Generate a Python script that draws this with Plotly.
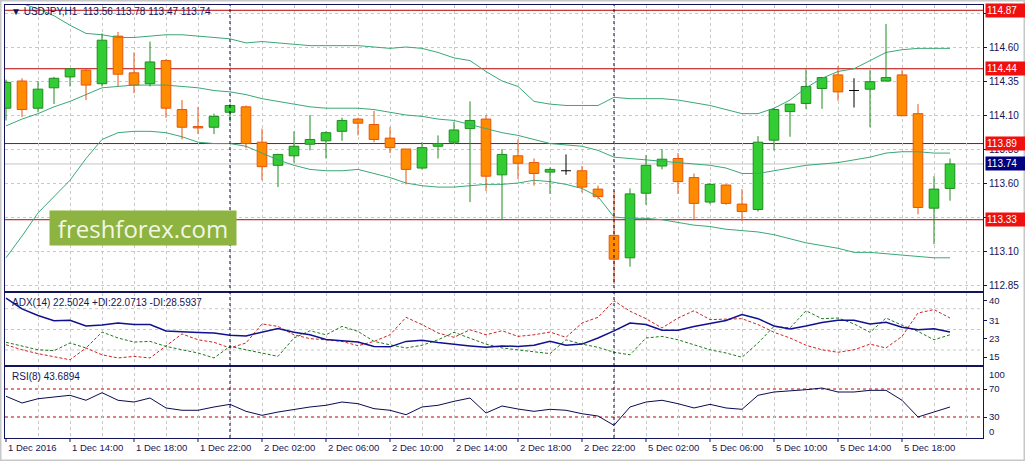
import plotly.graph_objects as go

# ---------------- data ----------------
opens = [114.15, 114.35, 114.15, 114.30, 114.38, 114.43, 114.33, 114.68, 114.41, 114.33,
         114.50, 114.14, 114.015, 114.01, 114.12, 114.16, 113.90, 113.73, 113.80, 113.885,
         113.91, 113.98, 114.07, 114.03, 113.93, 113.85, 113.71, 113.87, 113.90, 114.00,
         114.07, 113.66, 113.80, 113.75, 113.68, 113.69, 113.69, 113.555, 113.215, 113.05,
         113.525, 113.725, 113.78, 113.64, 113.46, 113.585, 113.445, 113.405, 113.915, 114.125,
         114.185, 114.295, 114.395, 114.28, 114.29, 114.35, 114.395, 114.11, 113.415, 113.56]
highs = [114.36, 114.37, 114.35, 114.38, 114.44, 114.44, 114.70, 114.71, 114.56, 114.64,
         114.51, 114.21, 114.16, 114.11, 114.18, 114.17, 114.00, 113.815, 113.98, 114.10,
         113.98, 114.08, 114.08, 114.13, 114.01, 113.85, 113.90, 113.95, 114.05, 114.20,
         114.10, 113.85, 113.92, 113.78, 113.715, 113.81, 113.725, 113.58, 113.54, 113.56,
         113.805, 113.85, 113.82, 113.67, 113.60, 113.59, 113.555, 113.945, 114.15, 114.18,
         114.435, 114.38, 114.46, 114.37, 114.43, 114.77, 114.43, 114.18, 113.65, 113.78]
lows = [114.06, 114.085, 114.12, 114.18, 114.31, 114.21, 114.31, 114.31, 114.26, 114.31,
        114.08, 113.92, 113.96, 113.96, 114.05, 113.855, 113.62, 113.57, 113.75, 113.84,
        113.78, 113.91, 113.95, 113.90, 113.82, 113.59, 113.70, 113.78, 113.89, 113.46,
        113.54, 113.33, 113.63, 113.58, 113.52, 113.66, 113.53, 113.48, 112.86, 112.985,
        113.44, 113.70, 113.52, 113.33, 113.445, 113.44, 113.32, 113.39, 113.84, 113.94,
        114.145, 114.145, 114.205, 114.155, 114.01, 114.345, 114.09, 113.37, 113.15, 113.47]
closes = [114.34, 114.14, 114.29, 114.37, 114.44, 114.32, 114.65, 114.40, 114.32, 114.49,
          114.15, 114.01, 114.005, 114.09, 114.17, 113.89, 113.72, 113.81, 113.87, 113.92,
          113.97, 114.06, 114.04, 113.92, 113.86, 113.70, 113.86, 113.89, 113.99, 114.06,
          113.65, 113.81, 113.745, 113.67, 113.70, 113.69, 113.57, 113.50, 113.04, 113.52,
          113.73, 113.775, 113.61, 113.45, 113.59, 113.45, 113.39, 113.90, 114.14, 114.18,
          114.31, 114.375, 114.27, 114.28, 114.345, 114.375, 114.095, 113.42, 113.555, 113.74]

bb_upper = [114.96, 114.92, 114.88, 114.83, 114.76, 114.70, 114.69, 114.67, 114.67, 114.68,
            114.69, 114.69, 114.68, 114.67, 114.66, 114.63, 114.64, 114.63, 114.62, 114.61,
            114.61, 114.61, 114.61, 114.60, 114.59, 114.60, 114.59, 114.56, 114.52, 114.50,
            114.42, 114.35, 114.31, 114.20, 114.18, 114.17, 114.17, 114.17, 114.23, 114.22,
            114.22, 114.22, 114.21, 114.19, 114.17, 114.14, 114.11, 114.11, 114.15, 114.21,
            114.30, 114.37, 114.42, 114.44, 114.50, 114.56, 114.58, 114.59, 114.59, 114.59]
bb_middle = [114.02, 114.07, 114.11, 114.16, 114.20, 114.25, 114.30, 114.31, 114.32, 114.32,
             114.32, 114.31, 114.30, 114.28, 114.27, 114.25, 114.22, 114.20, 114.18, 114.16,
             114.15, 114.15, 114.15, 114.14, 114.12, 114.10, 114.09, 114.07, 114.06, 114.03,
             114.00, 113.97, 113.95, 113.92, 113.89, 113.88, 113.87, 113.84, 113.79, 113.78,
             113.77, 113.76, 113.75, 113.74, 113.73, 113.71, 113.67, 113.67, 113.69, 113.71,
             113.73, 113.74, 113.75, 113.77, 113.79, 113.82, 113.83, 113.83, 113.82, 113.82]
bb_lower = [113.05, 113.21, 113.38, 113.50, 113.62, 113.78, 113.92, 113.97, 113.98, 113.98,
            113.97, 113.94, 113.90, 113.89, 113.89, 113.87, 113.82, 113.77, 113.73, 113.70,
            113.69, 113.69, 113.70, 113.67, 113.64, 113.60, 113.58, 113.57, 113.57, 113.58,
            113.59, 113.59, 113.60, 113.62, 113.61, 113.59, 113.56, 113.50, 113.35, 113.34,
            113.34, 113.33, 113.31, 113.29, 113.28, 113.26, 113.25, 113.24, 113.22, 113.19,
            113.16, 113.14, 113.12, 113.09, 113.09, 113.08, 113.07, 113.06, 113.05, 113.05]

adx = [41.0, 36.2, 33.3, 31.0, 31.2, 28.7, 29.1, 30.0, 29.3, 29.3,
       26.5, 26.0, 25.8, 25.6, 24.6, 24.3, 25.8, 27.6, 25.9, 24.8,
       22.7, 22.2, 21.6, 19.7, 19.5, 21.9, 22.4, 21.4, 20.5, 19.9,
       19.3, 19.9, 19.7, 20.2, 21.9, 20.2, 20.7, 23.4, 26.5, 30.0,
       29.3, 26.8, 26.8, 28.5, 29.8, 31.1, 33.7, 31.9, 28.7, 27.4,
       28.7, 30.2, 31.2, 31.2, 29.6, 30.3, 28.1, 27.0, 27.5, 26.0]
plus_di = [21.5, 19.7, 18.2, 17.8, 21.2, 19.0, 26.0, 23.4, 21.6, 21.9,
           19.7, 18.2, 16.8, 14.6, 19.7, 18.2, 16.8, 15.3, 23.4, 26.6,
           24.8, 28.5, 26.3, 21.9, 20.4, 19.0, 20.2, 22.6, 25.9, 23.4,
           20.7, 19.0, 18.2, 17.5, 16.5, 22.6, 20.7, 19.3, 17.1, 16.0,
           23.4, 24.1, 22.6, 20.4, 18.2, 16.8, 14.9, 21.2, 28.5, 27.8,
           35.4, 31.9, 32.2, 29.6, 25.9, 32.2, 29.0, 26.3, 22.6, 24.8]
minus_di = [20.4, 18.2, 16.5, 15.3, 13.8, 19.0, 16.0, 14.6, 15.3, 14.6,
            20.0, 25.2, 22.6, 21.5, 19.0, 21.2, 29.6, 28.5, 24.8, 23.1,
            22.6, 21.9, 20.0, 21.9, 24.8, 32.5, 29.3, 25.6, 23.7, 27.0,
            24.8, 26.6, 24.1, 24.8, 26.0, 23.7, 30.0, 32.5, 39.8, 35.2,
            31.9, 27.8, 32.2, 35.4, 31.5, 31.8, 31.9, 29.3, 25.9, 23.4,
            20.2, 18.2, 17.1, 18.2, 20.7, 19.0, 24.1, 34.4, 35.9, 32.2]
rsi = [59.6, 50.0, 56.1, 58.6, 61.0, 53.9, 64.7, 53.9, 51.4, 57.1,
       42.9, 39.6, 39.6, 44.3, 48.1, 38.1, 32.4, 37.1, 41.0, 44.3,
       46.7, 51.4, 49.0, 41.9, 39.6, 33.3, 44.3, 46.7, 52.4, 57.1,
       35.7, 45.7, 41.4, 38.1, 41.0, 39.6, 34.7, 31.4, 18.1, 44.3,
       51.4, 53.9, 49.0, 42.9, 48.1, 42.9, 41.0, 61.0, 65.7, 67.1,
       69.0, 71.4, 65.7, 65.7, 68.1, 68.1, 53.9, 30.0, 37.1, 44.3]

x_tick_labels = ["1 Dec 2016", "1 Dec 14:00", "1 Dec 18:00", "1 Dec 22:00", "2 Dec 02:00",
                 "2 Dec 06:00", "2 Dec 10:00", "2 Dec 14:00", "2 Dec 18:00", "2 Dec 22:00",
                 "5 Dec 02:00", "5 Dec 06:00", "5 Dec 10:00", "5 Dec 14:00", "5 Dec 18:00"]
price_ticks = [112.85, 113.10, 113.35, 113.60, 113.85, 114.10, 114.35, 114.60, 114.85]
levels = [114.87, 114.44, 113.89, 113.33]
adx_ticks = [40, 31, 23, 15]
rsi_levels = [70, 30]
day_start_bars = [14, 38]
symbol = "USDJPY,H1"
adx_header = "ADX(14) 22.5024 +DI:22.0713 -DI:28.5937"
rsi_header = "RSI(8) 43.6894"

# ---------------- geometry / style ----------------
W, H = 1025, 461
def fx(px):
    return px / W
def fy(py):
    return 1 - py / H

BAR0, STEP = 6.0, 16.0          # pixel of first bar, pixels per bar
LEFT, RIGHT = 5.0, 983.0
x_range = [(LEFT - BAR0) / STEP, (RIGHT - BAR0) / STEP]

NAVY = "#14145a"
FONT = "Liberation Sans"
GRID = "#c8c8c8"
BULL_FILL, BULL_LINE = "#32cd32", "#1f8a1f"
BEAR_FILL, BEAR_LINE = "#ff8c00", "#e8540c"
BAND = "#3aa876"

n = len(opens)
xs = list(range(n))

fig = go.Figure()

def wick_trace(idx, color):
    wx, wy = [], []
    for i in idx:
        top, bot = max(opens[i], closes[i]), min(opens[i], closes[i])
        wx += [i, i, None, i, i, None]
        wy += [highs[i], top, None, bot, lows[i], None]
    return go.Scatter(x=wx, y=wy, mode="lines", line=dict(color=color, width=1),
                      xaxis="x", yaxis="y", hoverinfo="skip")

bull = [i for i in xs if closes[i] > opens[i]]
bear = [i for i in xs if closes[i] < opens[i]]
doji = [i for i in xs if closes[i] == opens[i]]

# Bollinger bands
for band in (bb_upper, bb_middle, bb_lower):
    fig.add_trace(go.Scatter(x=xs, y=band, mode="lines", line=dict(color=BAND, width=1),
                             xaxis="x", yaxis="y", hoverinfo="skip"))

fig.add_trace(wick_trace(bull, BULL_LINE))
fig.add_trace(wick_trace(bear, BEAR_LINE))

# doji crosses
dx, dy = [], []
for i in doji:
    dx += [i, i, None, i - 0.31, i + 0.31, None]
    dy += [highs[i], lows[i], None, opens[i], opens[i], None]
fig.add_trace(go.Scatter(x=dx, y=dy, mode="lines", line=dict(color="#000000", width=1),
                         xaxis="x", yaxis="y", hoverinfo="skip"))

# bodies
fig.add_trace(go.Bar(x=bull, base=[opens[i] for i in bull],
                     y=[closes[i] - opens[i] for i in bull], width=0.6,
                     marker=dict(color=BULL_FILL, line=dict(color=BULL_LINE, width=1)),
                     xaxis="x", yaxis="y", hoverinfo="skip"))
fig.add_trace(go.Bar(x=bear, base=[closes[i] for i in bear],
                     y=[opens[i] - closes[i] for i in bear], width=0.6,
                     marker=dict(color=BEAR_FILL, line=dict(color=BEAR_LINE, width=1)),
                     xaxis="x", yaxis="y", hoverinfo="skip"))

# ADX panel
fig.add_trace(go.Scatter(x=xs, y=minus_di, mode="lines",
                         line=dict(color="#d02020", width=1, dash="3px,2px"),
                         xaxis="x2", yaxis="y2", hoverinfo="skip"))
fig.add_trace(go.Scatter(x=xs, y=plus_di, mode="lines",
                         line=dict(color="#1e7a1e", width=1, dash="3px,2px"),
                         xaxis="x2", yaxis="y2", hoverinfo="skip"))
fig.add_trace(go.Scatter(x=xs, y=adx, mode="lines", line=dict(color="#101090", width=1.5),
                         xaxis="x2", yaxis="y2", hoverinfo="skip"))

# RSI panel
fig.add_trace(go.Scatter(x=xs, y=rsi, mode="lines", line=dict(color="#0a0a50", width=1),
                         xaxis="x3", yaxis="y3", hoverinfo="skip"))

# ---------------- axes ----------------
dom_x = [fx(LEFT), fx(RIGHT)]
dom_main = [fy(290.7), fy(5)]
dom_adx = [fy(365.3), fy(293.3)]
dom_rsi = [fy(438), fy(367.3)]

def p_at(py):  # main panel price for a pixel row
    return 114.60 + (47.0 - py) / 136.0
def adx_at(py):
    return 40 - (py - 300.3) / 2.27

xcommon = dict(range=x_range, showline=True, mirror=True, linecolor=NAVY, linewidth=1,
               showgrid=True, gridcolor=GRID, griddash="3px,3px", gridwidth=1,
               tickmode="linear", tick0=0, dtick=2, zeroline=False, fixedrange=True)

# tick labels that sit fully under a level box are left blank (as in the reference)
price_text = ["" if any(abs(v - lv) < 0.03 for lv in levels) else f"{v:.2f}" for v in price_ticks]

fig.update_layout(
    xaxis=dict(domain=dom_x, anchor="y", showticklabels=False, ticks="", **xcommon),
    xaxis2=dict(domain=dom_x, anchor="y2", showticklabels=False, ticks="", **xcommon),
    xaxis3=dict(domain=dom_x, anchor="y3", showticklabels=False, ticks="", **xcommon),
    yaxis=dict(domain=dom_main, anchor="x", side="right", range=[p_at(290.7), p_at(5)],
               tickmode="array", tickvals=price_ticks, ticktext=price_text,
               showline=True, mirror=True, linecolor=NAVY, ticks="outside", ticklen=3,
               tickcolor=NAVY, showgrid=True, gridcolor=GRID, griddash="3px,3px",
               zeroline=False, tickfont=dict(family=FONT, size=10, color=NAVY)),
    yaxis2=dict(domain=dom_adx, anchor="x2", side="right", range=[adx_at(365.3), adx_at(293.3)],
                tickmode="array", tickvals=adx_ticks, ticktext=[str(v) for v in adx_ticks],
                showline=True, mirror=True, linecolor=NAVY, ticks="outside", ticklen=3,
                tickcolor=NAVY, showgrid=False, zeroline=False,
                tickfont=dict(family=FONT, size=9.5, color=NAVY)),
    yaxis3=dict(domain=dom_rsi, anchor="x3", side="right", range=[0, 101],
                tickmode="array", tickvals=rsi_levels, ticktext=[str(v) for v in rsi_levels],
                showline=True, mirror=True, linecolor=NAVY, ticks="outside", ticklen=3,
                tickcolor=NAVY, showgrid=False, zeroline=False,
                tickfont=dict(family=FONT, size=9.5, color=NAVY)),
    width=W, height=H, margin=dict(l=0, r=0, t=0, b=0),
    paper_bgcolor="white", plot_bgcolor="white", showlegend=False,
    barmode="overlay", hovermode=False,
    font=dict(family=FONT, size=10, color=NAVY),
)

shapes = []
for py in (308.7, 329.5, 350.0):
    shapes.append(dict(type="line", xref="x2 domain", x0=0, x1=1, yref="y2",
                       y0=adx_at(py), y1=adx_at(py), layer="below",
                       line=dict(color=GRID, width=1, dash="3px,3px")))
shapes.append(dict(type="line", xref="x domain", x0=0, x1=1, yref="y",
                   y0=closes[-1], y1=closes[-1], layer="below",
                   line=dict(color="#c4c4c4", width=1)))
for lv in levels:
    shapes.append(dict(type="line", xref="x domain", x0=0, x1=1, yref="y", y0=lv, y1=lv,
                       layer="below", line=dict(color="#b80000", width=1)))
for lv in rsi_levels:
    shapes.append(dict(type="line", xref="x3 domain", x0=0, x1=1, yref="y3", y0=lv, y1=lv,
                       layer="below", line=dict(color="#c00000", width=1, dash="3px,3px")))
for b in day_start_bars:
    shapes.append(dict(type="line", xref="x", x0=b, x1=b, yref="paper",
                       y0=dom_rsi[0], y1=dom_main[1],
                       line=dict(color="#000050", width=1, dash="3px,3px")))
for k in range(len(x_tick_labels)):
    shapes.append(dict(type="line", xref="x3", x0=4 * k, x1=4 * k, yref="paper",
                       y0=fy(438), y1=fy(442), line=dict(color=NAVY, width=1)))
shapes.append(dict(type="rect", xref="paper", yref="paper", x0=0, x1=1, y0=0, y1=1,
                   line=dict(color="#c8c8c8", width=3)))
fig.update_layout(shapes=shapes)

ann = []
ann.append(dict(xref="paper", yref="paper", x=fx(9), y=fy(11), xanchor="left",
                yanchor="middle", showarrow=False,
                text=f"▼ {symbol}  {opens[-1]:.2f} {highs[-1]:.2f} {lows[-1]:.2f} {closes[-1]:.2f}",
                font=dict(family=FONT, size=10, color=NAVY)))
ann.append(dict(xref="paper", yref="paper", x=fx(10), y=fy(302), xanchor="left",
                yanchor="middle", showarrow=False, text=adx_header,
                font=dict(family=FONT, size=10, color=NAVY)))
ann.append(dict(xref="paper", yref="paper", x=fx(10), y=fy(376), xanchor="left",
                yanchor="middle", showarrow=False, text=rsi_header,
                font=dict(family=FONT, size=10, color=NAVY)))
ann.append(dict(xref="paper", yref="paper", x=fx(143), y=fy(228), xanchor="center",
                yanchor="middle", showarrow=False, text="freshforex.com",
                width=186, height=34, bgcolor="#8db340", borderpad=0,
                font=dict(family="Open Sans", size=24, color="#f3f6e6")))
for lv in levels:
    ann.append(dict(xref="paper", yref="y", x=fx(985), y=lv, xanchor="left",
                    yanchor="middle", showarrow=False, text=f"{lv:.2f}", width=37,
                    align="left", bgcolor="#f01010", borderpad=1,
                    font=dict(family=FONT, size=10, color="white")))
ann.append(dict(xref="paper", yref="y", x=fx(985), y=closes[-1], xanchor="left",
                yanchor="middle", showarrow=False, text=f"{closes[-1]:.2f}", width=37,
                align="left", bgcolor="#000080", borderpad=1,
                font=dict(family=FONT, size=10, color="white")))
ann.append(dict(xref="paper", yref="paper", x=fx(987), y=fy(374.3), xanchor="left",
                yanchor="middle", showarrow=False, text="100",
                font=dict(family=FONT, size=9.5, color=NAVY)))
ann.append(dict(xref="paper", yref="paper", x=fx(987), y=fy(431.7), xanchor="left",
                yanchor="middle", showarrow=False, text="0",
                font=dict(family=FONT, size=9.5, color=NAVY)))
for k, lab in enumerate(x_tick_labels):
    ann.append(dict(xref="x3", yref="paper", x=4 * k, y=fy(447), xanchor="left",
                    yanchor="middle", showarrow=False, text=lab,
                    font=dict(family=FONT, size=9.5, color=NAVY)))
fig.update_layout(annotations=ann)

fig.write_html("out.html", config={"displayModeBar": False},
               post_script="document.body.style.margin='0';document.body.style.overflow='hidden';")
